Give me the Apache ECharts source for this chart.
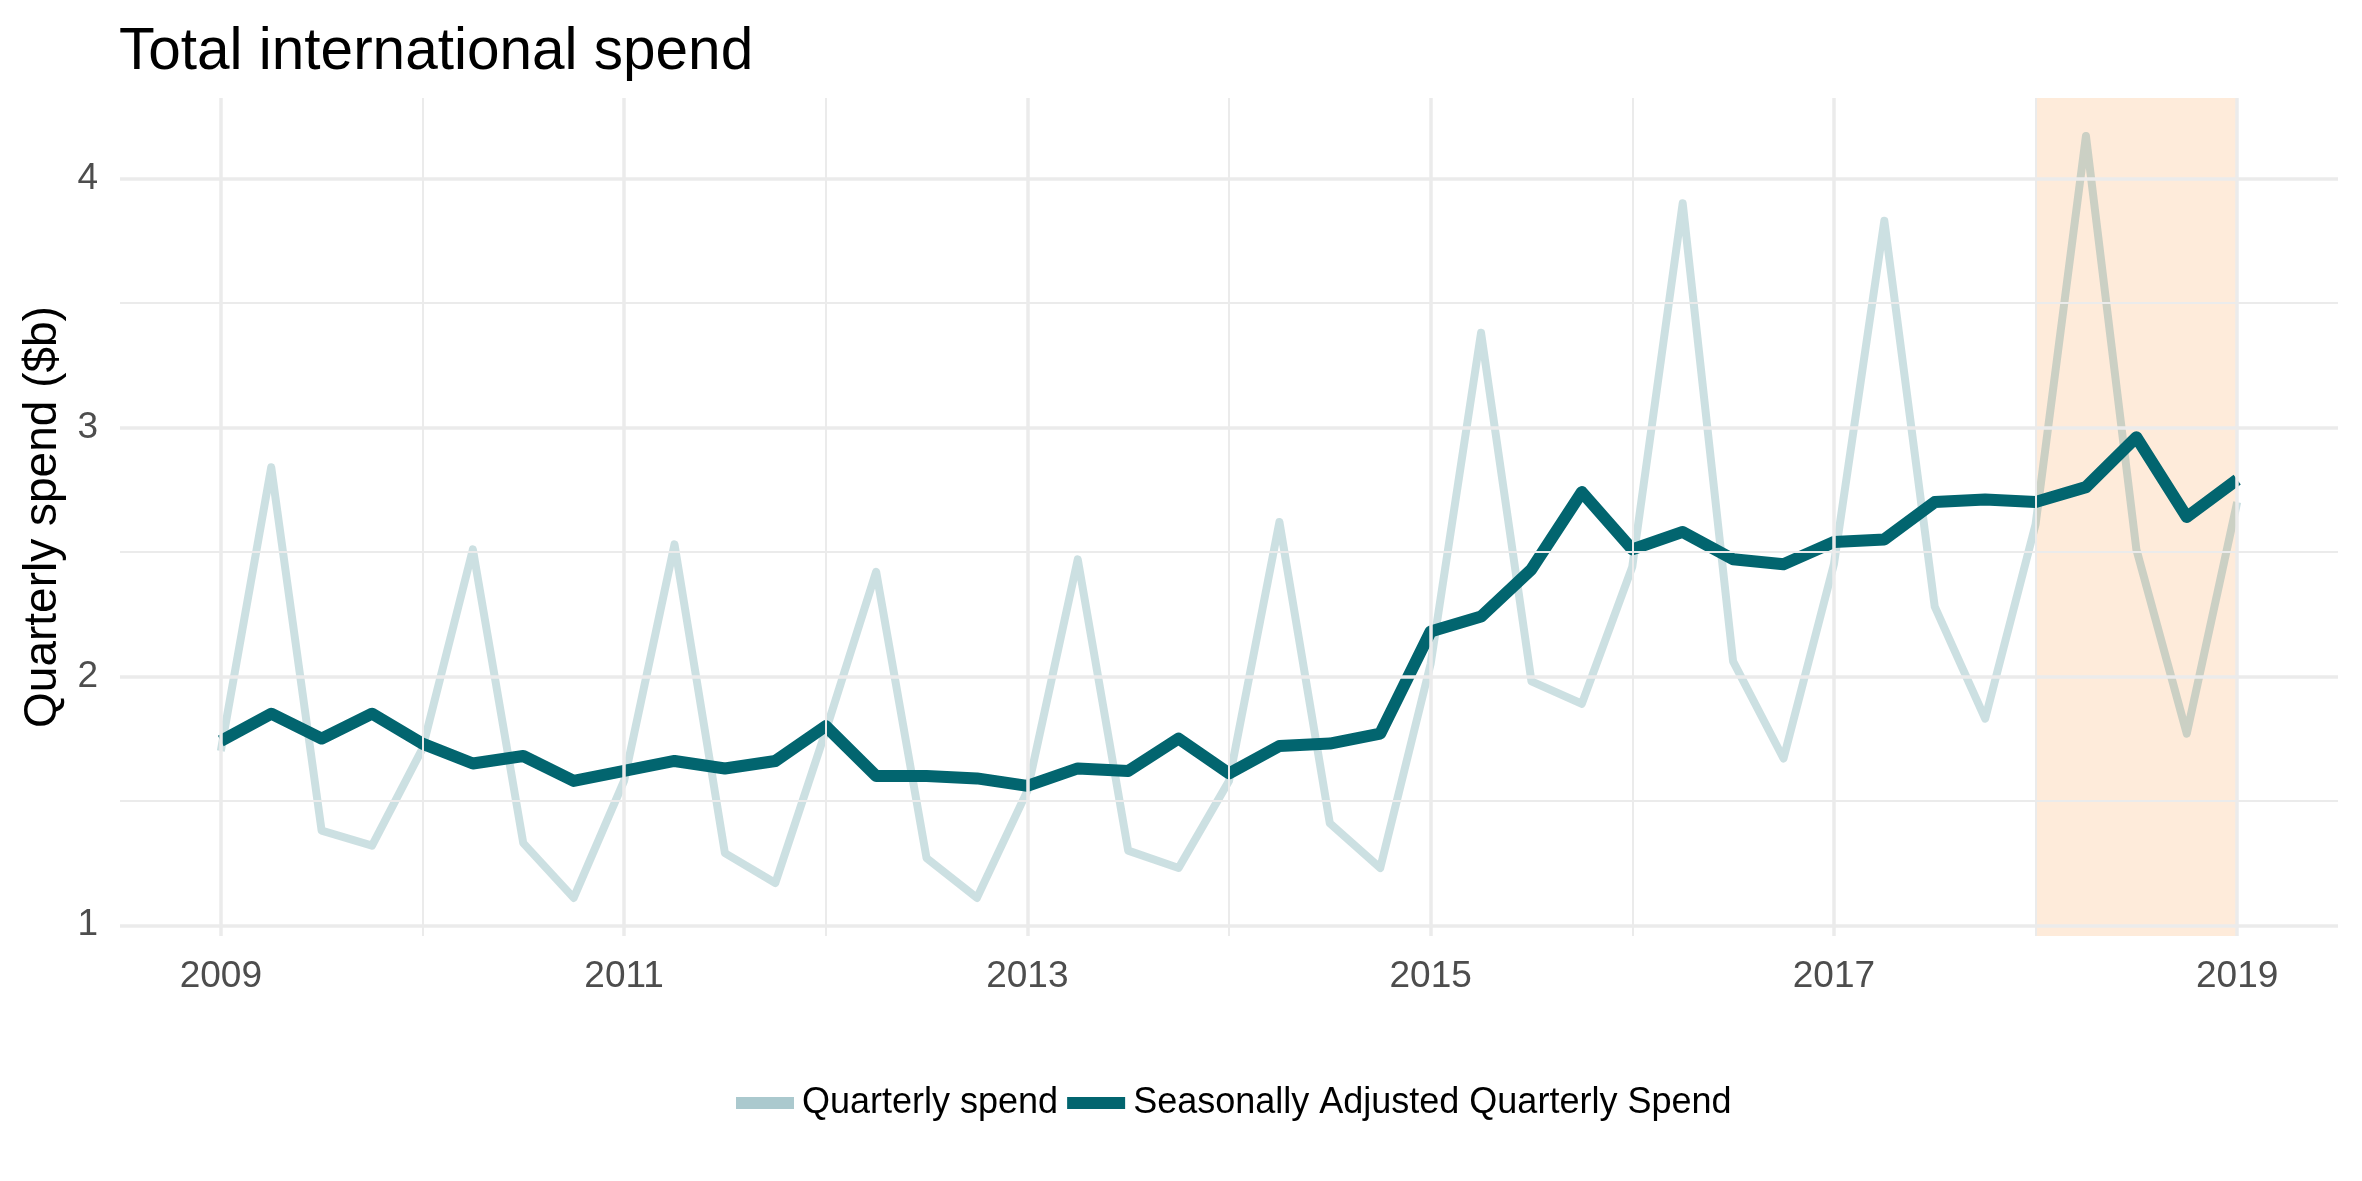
<!DOCTYPE html>
<html>
<head>
<meta charset="utf-8">
<script src="https://cdn.jsdelivr.net/npm/echarts@6/dist/echarts.min.js"></script>
<style>
  html, body { margin: 0; padding: 0; background: #ffffff; }
  #chart { width: 2362px; height: 1181px; }
</style>
</head>
<body>
<div id="chart"></div>
<script>
// ---- data ----
const quarters = [
  2009.00, 2009.25, 2009.50, 2009.75,
  2010.00, 2010.25, 2010.50, 2010.75,
  2011.00, 2011.25, 2011.50, 2011.75,
  2012.00, 2012.25, 2012.50, 2012.75,
  2013.00, 2013.25, 2013.50, 2013.75,
  2014.00, 2014.25, 2014.50, 2014.75,
  2015.00, 2015.25, 2015.50, 2015.75,
  2016.00, 2016.25, 2016.50, 2016.75,
  2017.00, 2017.25, 2017.50, 2017.75,
  2018.00, 2018.25, 2018.50, 2018.75,
  2019.00
];
const quarterlySpend = [
  1.70, 2.84, 1.38, 1.32,
  1.71, 2.51, 1.33, 1.11,
  1.58, 2.53, 1.29, 1.17,
  1.78, 2.42, 1.27, 1.11,
  1.54, 2.47, 1.30, 1.23,
  1.58, 2.62, 1.41, 1.23,
  2.05, 3.38, 1.98, 1.89,
  2.44, 3.90, 2.06, 1.67,
  2.45, 3.83, 2.28, 1.83,
  2.61, 4.17, 2.51, 1.77,
  2.70
];
const seasonallyAdjusted = [
  1.74, 1.85, 1.75, 1.85,
  1.73, 1.65, 1.68, 1.58,
  1.62, 1.66, 1.63, 1.66,
  1.80, 1.60, 1.60, 1.59,
  1.56, 1.63, 1.62, 1.75,
  1.61, 1.72, 1.73, 1.77,
  2.18, 2.24, 2.43, 2.74,
  2.51, 2.58, 2.47, 2.45,
  2.54, 2.55, 2.70, 2.71,
  2.70, 2.76, 2.96, 2.64,
  2.79
];
const seriesNames = ['Quarterly spend', 'Seasonally Adjusted Quarterly Spend'];
const xMajorTicks = [2009, 2011, 2013, 2015, 2017, 2019];
const xMinorTicks = [2010, 2012, 2014, 2016, 2018];
const yMajorTicks = [1, 2, 3, 4];
const yMinorTicks = [1.5, 2.5, 3.5];
const highlightRange = [2018, 2019];

// ---- scale limits (5% expansion like ggplot) ----
const allY = quarterlySpend.concat(seasonallyAdjusted);
const yLo = Math.min(...allY), yHi = Math.max(...allY);
const yR = yHi - yLo;
const xLo = Math.min(...quarters), xHi = Math.max(...quarters);
const xR = xHi - xLo;

const FONT = '"Liberation Sans", Arial, Helvetica, sans-serif';
const DARK = '#02656f';
const GRID = '#ebebeb';

const gridLines = []
  .concat(xMinorTicks.map(v => ({ xAxis: v, lineStyle: { width: 2 } })))
  .concat(xMajorTicks.map(v => ({ xAxis: v, lineStyle: { width: 3.5 } })))
  .concat(yMinorTicks.map(v => ({ yAxis: v, lineStyle: { width: 2 } })))
  .concat(yMajorTicks.map(v => ({ yAxis: v, lineStyle: { width: 3.5 } })));

const chart = echarts.init(document.getElementById('chart'), null, { renderer: 'canvas' });
chart.setOption({
  animation: false,
  backgroundColor: '#ffffff',
  textStyle: { fontFamily: FONT },
  title: {
    text: 'Total international spend',
    left: 119, top: 23, padding: 0,
    textStyle: { fontFamily: FONT, fontSize: 58.5, fontWeight: 'normal', color: '#000000' }
  },
  legend: {
    left: 731, top: 1080,
    icon: 'rect', itemWidth: 58, itemHeight: 12, itemGap: 9,
    textStyle: { fontFamily: FONT, fontSize: 36, color: '#000000', padding: [0, 0, 0, 3] },
    data: [
      { name: seriesNames[0], itemStyle: { color: '#abc9ce' } },
      { name: seriesNames[1], itemStyle: { color: DARK } }
    ]
  },
  grid: { left: 120, right: 24, top: 98, bottom: 245, containLabel: false },
  xAxis: {
    type: 'value',
    min: xLo - 0.05 * xR, max: xHi + 0.05 * xR,
    axisLine: { show: false }, axisTick: { show: false, customValues: xMajorTicks },
    splitLine: { show: false },
    axisLabel: {
      customValues: xMajorTicks, margin: 22,
      formatter: v => String(v),
      fontFamily: FONT, fontSize: 37, color: '#4d4d4d'
    }
  },
  yAxis: {
    type: 'value',
    min: yLo - 0.05 * yR, max: yHi + 0.05 * yR,
    name: 'Quarterly spend ($b)', nameLocation: 'middle', nameGap: 54,
    nameTextStyle: { fontFamily: FONT, fontSize: 46, color: '#000000' },
    axisLine: { show: false }, axisTick: { show: false, customValues: yMajorTicks },
    splitLine: { show: false },
    axisLabel: {
      customValues: yMajorTicks, margin: 22,
      formatter: v => String(v),
      fontFamily: FONT, fontSize: 37, color: '#4d4d4d'
    }
  },
  series: [
    {
      type: 'line', name: '_grid', data: [], z: 1, silent: true,
      markLine: {
        silent: true, symbol: 'none', animation: false,
        label: { show: false },
        lineStyle: { color: GRID, type: 'solid' },
        emphasis: { disabled: true },
        data: gridLines
      }
    },
    {
      type: 'line', name: seriesNames[0], z: 2,
      data: quarters.map((q, i) => [q, quarterlySpend[i]]),
      showSymbol: false, symbol: 'none',
      itemStyle: { color: '#abc9ce' },
      lineStyle: { color: 'rgba(2,101,111,0.2)', width: 8, join: 'round', cap: 'butt' },
      emphasis: { disabled: true }
    },
    {
      type: 'line', name: seriesNames[1], z: 3,
      data: quarters.map((q, i) => [q, seasonallyAdjusted[i]]),
      showSymbol: false, symbol: 'none',
      itemStyle: { color: DARK },
      lineStyle: { color: DARK, width: 12, join: 'round', cap: 'butt' },
      emphasis: { disabled: true }
    },
    {
      type: 'line', name: '_shade', data: [], z: 10, silent: true,
      markArea: {
        silent: true,
        itemStyle: { color: 'rgba(248,160,80,0.21)' },
        emphasis: { disabled: true },
        data: [[{ xAxis: highlightRange[0] }, { xAxis: highlightRange[1] }]]
      }
    }
  ]
});
</script>
</body>
</html>
